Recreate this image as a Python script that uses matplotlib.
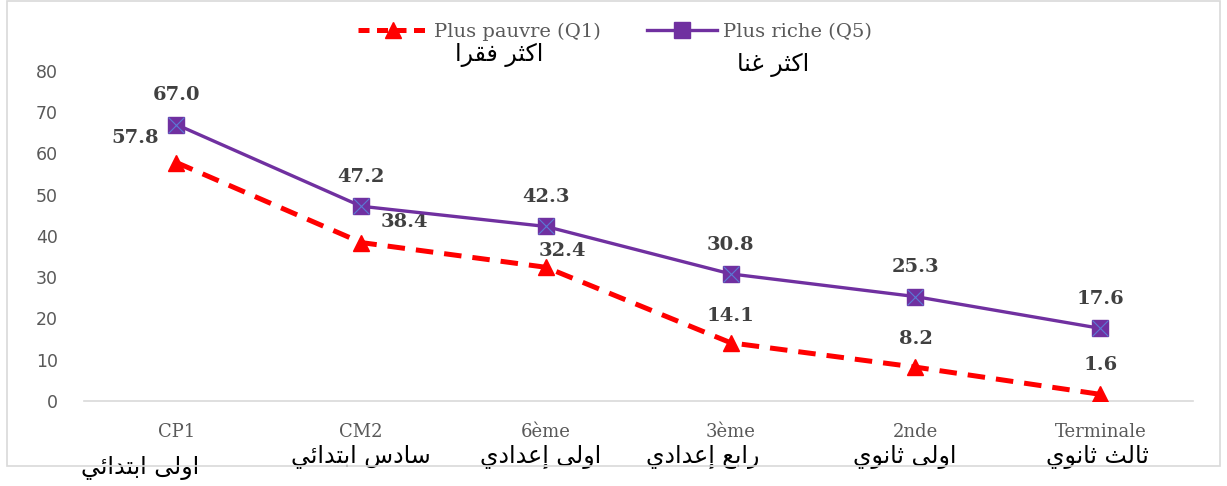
import matplotlib
matplotlib.use("Agg")
import matplotlib.pyplot as plt
from matplotlib.lines import Line2D
from matplotlib.patches import Rectangle
import matplotlib.transforms as mtransforms

# data
levels = ["CP1", "CM2", "6ème", "3ème", "2nde", "Terminale"]
levels_ar = ["اولى ابتدائي", "سادس ابتدائي", "اولى إعدادي", "رابع إعدادي", "اولى ثانوي", "ثالث ثانوي"]
q1 = [57.8, 38.4, 32.4, 14.1, 8.2, 1.6]
q5 = [67.0, 47.2, 42.3, 30.8, 25.3, 17.6]
q1_name = "Plus pauvre (Q1)"
q5_name = "Plus riche (Q5)"
q1_ar = "اكثر فقرا"
q5_ar = "اكثر غنا"

# small arabic shaper (matplotlib has no shaping): iso, fin, ini, med
FORMS = {
    "ا": (0xFE8D, 0xFE8E), "أ": (0xFE83, 0xFE84), "إ": (0xFE87, 0xFE88),
    "د": (0xFEA9, 0xFEAA), "ر": (0xFEAD, 0xFEAE), "و": (0xFEED, 0xFEEE),
    "ى": (0xFEEF, 0xFEF0),
    "ب": (0xFE8F, 0xFE90, 0xFE91, 0xFE92), "ت": (0xFE95, 0xFE96, 0xFE97, 0xFE98),
    "ث": (0xFE99, 0xFE9A, 0xFE9B, 0xFE9C), "س": (0xFEB1, 0xFEB2, 0xFEB3, 0xFEB4),
    "ع": (0xFEC9, 0xFECA, 0xFECB, 0xFECC), "غ": (0xFECD, 0xFECE, 0xFECF, 0xFED0),
    "ف": (0xFED1, 0xFED2, 0xFED3, 0xFED4), "ق": (0xFED5, 0xFED6, 0xFED7, 0xFED8),
    "ك": (0xFED9, 0xFEDA, 0xFEDB, 0xFEDC), "ل": (0xFEDD, 0xFEDE, 0xFEDF, 0xFEE0),
    "ن": (0xFEE5, 0xFEE6, 0xFEE7, 0xFEE8), "ي": (0xFEF1, 0xFEF2, 0xFEF3, 0xFEF4),
    "ئ": (0xFE89, 0xFE8A, 0xFE8B, 0xFE8C),
}


def shape(s):
    out = []
    for i, c in enumerate(s):
        if c not in FORMS:
            out.append(c)
            continue
        prev = s[i - 1] if i > 0 else " "
        nxt = s[i + 1] if i + 1 < len(s) else " "
        f = FORMS[c]
        join_prev = prev in FORMS and len(FORMS[prev]) == 4
        join_next = len(f) == 4 and nxt in FORMS
        if join_prev and join_next:
            out.append(chr(f[3]))
        elif join_prev:
            out.append(chr(f[1]))
        elif join_next:
            out.append(chr(f[2]))
        else:
            out.append(chr(f[0]))
    return "".join(out)[::-1]


serif = ["DejaVu Serif"]
arfont = ["DejaVu Sans"]
grey = "#595959"

fig = plt.figure(figsize=(12.27, 4.86), dpi=100)
ax = fig.add_axes([0.0685, 0.175, 0.9035, 0.679])

x = list(range(len(levels)))
ax.plot(x, q1, color="#FF0000", lw=3.6, ls=(0, (3.5, 2.2)), marker="^", ms=12,
        markeredgecolor="#FF0000", zorder=3)
ax.plot(x, q5, color="#7030A0", lw=2.4, marker="s", ms=12,
        markeredgecolor="#7030A0", zorder=4)
ax.plot(x, q5, ls="none", marker="x", ms=11, mew=0.8, color="#5B7BD5", zorder=5)

lab = dict(fontfamily=serif, fontweight="bold", fontsize=14, color="#404040")
for i, v in enumerate(q5):
    ax.annotate(f"{v:.1f}", (i, v), xytext=(0, 21), textcoords="offset points",
                ha="center", va="center", **lab)
q1_off = [(-30, 18), (31, 15), (12, 12), (0, 19), (0, 20), (0, 21)]
for i, v in enumerate(q1):
    ax.annotate(f"{v:.1f}", (i, v), xytext=q1_off[i], textcoords="offset points",
                ha="center", va="center", **lab)

ax.set_xlim(-0.5, len(levels) - 0.5)
ax.set_ylim(0, 80)
ax.set_yticks(range(0, 81, 10))
ax.set_xticks(x)
ax.set_xticklabels(levels, fontfamily=serif, fontsize=13, color=grey)
ax.tick_params(axis="x", length=0, pad=16)
ax.tick_params(axis="y", length=0, pad=19, labelsize=12.5, labelcolor=grey)
for sp in ["top", "right", "left"]:
    ax.spines[sp].set_visible(False)
ax.spines["bottom"].set_color("#D9D9D9")
ax.spines["bottom"].set_linewidth(1.2)

trans = mtransforms.blended_transform_factory(ax.transData, ax.transAxes)
ar_dx = [-26, 0, -4, -20, -8, -2]
for i, t in enumerate(levels_ar):
    off = mtransforms.offset_copy(trans, fig=fig, x=ar_dx[i], y=-8 if i == 0 else 0,
                                  units="points")
    ax.text(i, -0.17, shape(t), transform=off, ha="center", va="center",
            fontfamily=arfont, fontsize=17, color="black", clip_on=False)

h1 = Line2D([], [], color="#FF0000", lw=3.6, ls=(0, (2.2, 1.5)), marker="^", ms=11)
h5 = Line2D([], [], color="#7030A0", lw=2.4, marker="s", ms=11)
fig.legend([h1, h5], [q1_name, q5_name], loc="center", bbox_to_anchor=(0.501, 0.935),
           ncol=2, frameon=False, handlelength=3.6, handletextpad=0.3, columnspacing=2.4,
           prop={"family": serif, "size": 14}, labelcolor=grey)
fig.text(0.407, 0.887, shape(q1_ar), ha="center", va="center", fontfamily=arfont,
         fontsize=17, color="black")
fig.text(0.63, 0.866, shape(q5_ar), ha="center", va="center", fontfamily=arfont,
         fontsize=17, color="black")

fig.patches.append(Rectangle((0.0057, 0.041), 0.9886, 0.957, transform=fig.transFigure,
                             fill=False, edgecolor="#D9D9D9", lw=1.2))

fig.savefig("out.png", dpi=100)
